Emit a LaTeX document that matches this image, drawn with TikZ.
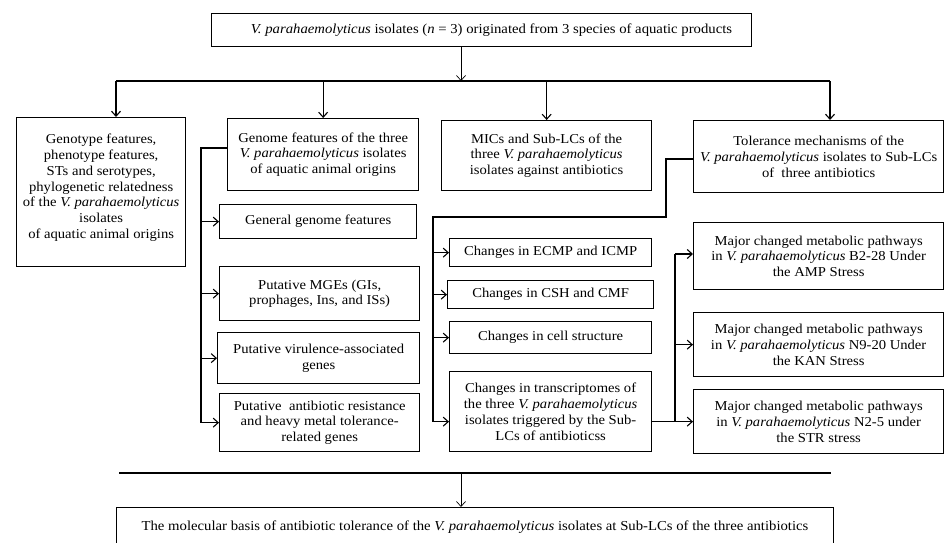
\documentclass[tikz,border=0pt]{standalone}
\usepackage{fontspec}
\setmainfont[FakeStretch=1.075]{Liberation Serif}
\usetikzlibrary{arrows.meta}
\begin{document}
\begin{tikzpicture}[x=1pt,y=-1pt,
 box/.style={draw,line width=1.3pt,inner xsep=1pt,inner ysep=2pt,align=center,anchor=north west,font=\fontsize{13.6}{15.8}\selectfont},
 thinbox/.style={box,line width=1pt,font=\fontsize{13.7}{14}\selectfont},
 wire/.style={line width=1.1pt},
 arr/.style={wire,-{Straight Barb[length=5pt,width=9pt]}},
 thinarr/.style={line width=0.7pt,-{Straight Barb[length=5pt,width=9pt]}},
]
\useasboundingbox (0,0) rectangle (945,543);
% top
\node[thinbox,minimum width=540,minimum height=33] (top) at (211,13) {\hspace*{20pt}\textit{V. parahaemolyticus} isolates (\textit{n} = 3) originated from 3 species of aquatic products};
\coordinate (hub) at (461,81);
\coordinate (hl) at (116,81);
\coordinate (hr) at (830,81);
% level 1 boxes
\node[box,minimum width=169,minimum height=149] (left) at (16,117) {Genotype features,\\ phenotype features,\\ STs and serotypes,\\ phylogenetic relatedness\\ of the \textit{V. parahaemolyticus}\\ isolates\\ of aquatic animal origins\\[-4pt]};
\node[box,minimum width=191,minimum height=72] (genome) at (227,118) {Genome features of the three\\ \textit{V. parahaemolyticus} isolates\\ of aquatic animal origins};
\node[box,minimum width=210,minimum height=70] (mic) at (441,120) {MICs and Sub-LCs of the\\ three \textit{V. parahaemolyticus}\\ isolates against antibiotics};
\node[box,minimum width=250,minimum height=72] (tol) at (693,120) {Tolerance mechanisms of the\\ \textit{V. parahaemolyticus} isolates to Sub-LCs\\ of~ three antibiotics};
% left column
\node[box,minimum width=197,minimum height=34] (general) at (219,204) {General genome features};
\node[box,minimum width=200,minimum height=54] (mge) at (219,266) {Putative MGEs (GIs,\\ prophages, Ins, and ISs)};
\node[box,minimum width=202,minimum height=51] (vir) at (217,332) {Putative virulence-associated\\ genes};
\node[box,minimum width=200,minimum height=58] (anti) at (219,393) {Putative~ antibiotic resistance\\ and heavy metal tolerance-\\ related genes};
% middle column
\node[box,minimum width=202,minimum height=28] (ecmp) at (449,238) {Changes in ECMP and ICMP};
\node[box,minimum width=206,minimum height=28] (csh) at (447,280) {Changes in CSH and CMF};
\node[box,minimum width=202,minimum height=32] (cell) at (449,321) {Changes in cell structure};
\node[box,minimum width=202,minimum height=80] (trans) at (449,371) {Changes in transcriptomes of\\ the three \textit{V. parahaemolyticus}\\ isolates triggered by the Sub-\\ LCs of antibioticss};
% right column
\node[box,minimum width=250,minimum height=67] (amp) at (693,222) {Major changed metabolic pathways\\ in \textit{V. parahaemolyticus} B2-28 Under\\ the AMP Stress};
\node[box,minimum width=250,minimum height=64] (kan) at (693,312) {Major changed metabolic pathways\\ in \textit{V. parahaemolyticus} N9-20 Under\\ the KAN Stress};
\node[box,minimum width=250,minimum height=64] (str) at (693,389) {Major changed metabolic pathways\\ in \textit{V. parahaemolyticus} N2-5 under\\ the STR stress};
% bottom
\coordinate (bl) at (119,473);
\coordinate (br) at (831,473);
\coordinate (bh) at (461,473);
\node[thinbox,minimum width=717,minimum height=40] (bot) at (116,507) {The molecular basis of antibiotic tolerance of the \textit{V. parahaemolyticus} isolates at Sub-LCs of the three antibiotics};
% connectors top
\draw[thinarr] (top.south -| hub) -- (hub);
\draw[wire] (hl) -- (hr);
\draw[arr] (hl) -- (hl |- left.north);
\draw[arr] (genome.north |- hl) -- (genome.north);
\draw[arr] (mic.north |- hl) -- (mic.north);
\draw[arr] (hr) -- (hr |- tol.north);
% genome spine
\coordinate (sp1) at (201,148);
\draw[wire] (sp1 -| genome.west) -- (sp1) -- (sp1 |- anti.west);
\draw[arr] (sp1 |- general.west) -- (general.west);
\draw[arr] (sp1 |- mge.west) -- (mge.west);
\draw[arr] (sp1 |- vir.west) -- (vir.west);
\draw[arr] (sp1 |- anti.west) -- (anti.west);
% tolerance spine
\coordinate (t1) at (666,159);
\coordinate (t2) at (433,217);
\draw[wire] (t1 -| tol.west) -- (t1) |- (t2) -- (t2 |- str.west);
\draw[arr] (t2 |- ecmp.west) -- (ecmp.west);
\draw[arr] (t2 |- csh.west) -- (csh.west);
\draw[arr] (t2 |- cell.west) -- (cell.west);
\draw[arr] (t2 |- str.west) -- (trans.west |- str.west);
% transcriptome to pathways
\coordinate (r1) at (675,254);
\draw[arr] (trans.east |- str.west) -- (str.west);
\draw[wire] (r1) -- (r1 |- str.west);
\draw[arr] (r1) -- (amp.west |- r1);
\draw[arr] (r1 |- kan.west) -- (kan.west);
% bottom
\draw[line width=2pt] (bl) -- (br);
\draw[thinarr] (bh) -- (bh |- bot.north);
\end{tikzpicture}
\end{document}
